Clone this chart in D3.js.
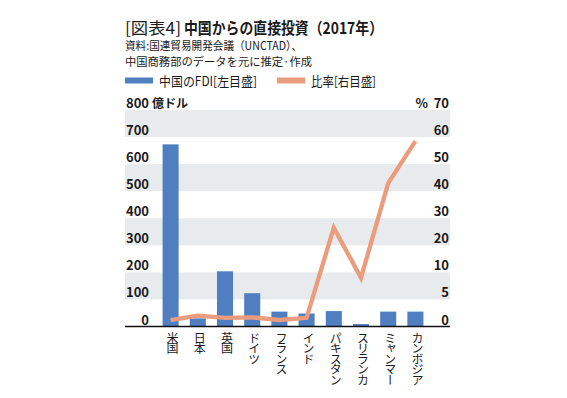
<!DOCTYPE html>
<html lang="ja">
<head>
	<meta charset="UTF-8">
	<title>中国からの直接投資</title>
	<script src="https://cdn.jsdelivr.net/npm/d3@7"></script>
	<style>
		body { margin: 0; background: #fff; }
		svg { display: block; font-family: "Noto Sans CJK JP", "Noto Sans", sans-serif; }
	</style>
</head>
<body>
	<div id="vis"></div>

	<script>
		// chart data
		var categories = ["米国", "日本", "英国", "ドイツ", "フランス", "インド", "パキスタン", "スリランカ", "ミャンマー", "カンボジア"];
		var fdi = [673, 30, 204, 123, 55, 48, 57, 9, 55, 55];           // 億ドル, left axis
		var ratio = [1.2, 2.0, 1.6, 1.7, 1.2, 1.6, 26.5, 9.0, 43, 58.5]; // %, right axis
		var leftTicks = [0, 100, 200, 300, 400, 500, 600, 700, 800];
		var rightTicks = [0, 5, 10, 20, 30, 40, 50, 60, 70];

		var width = 567;
		var height = 398;

		var svg = d3.select("#vis").append("svg")
				.attr("width", width)
				.attr("height", height);

		svg.append("rect")
			.attr("width", width)
			.attr("height", height)
			.attr("fill", "#fff");

		// plot area
		var plotLeft = 125, plotRight = 450;

		var x = d3.scaleBand()
				.domain(categories)
				.range([157, 429])
				.paddingInner(0.41)
				.paddingOuter(0.205);

		var y = d3.scaleLinear()
				.domain([0, 800])
				.range([326.5, 110]);

		// right axis is not linear: 0-10 takes two bands, then 10 per band
		var yR = d3.scaleLinear()
				.domain([0, 10, 70])
				.range([y(0), y(200), y(800)]);

		// alternating grey bands
		var bands = leftTicks.slice(0, -1).filter(function(d, i) { return i % 2 == 1; });
		svg.append("g").selectAll("rect")
			.data(bands)
			.join("rect")
				.attr("x", plotLeft)
				.attr("y", function(d) { return y(d + 100); })
				.attr("width", plotRight - plotLeft)
				.attr("height", function(d) { return y(d) - y(d + 100); })
				.attr("fill", "#e8ebee");

		// left axis labels
		var leftAxis = svg.append("g")
				.attr("transform", "translate(149,0)")
				.call(d3.axisLeft(y).tickValues(leftTicks).tickSize(0).tickPadding(0));
		leftAxis.select(".domain").remove();
		leftAxis.selectAll("text")
				.attr("dy", "-2.5")
				.attr("font-family", "'Noto Sans CJK JP', sans-serif")
				.attr("font-size", 13)
				.attr("font-weight", "bold")
				.attr("fill", "#1a1a1a");

		// right axis labels
		var rightAxis = svg.append("g")
				.attr("transform", "translate(449,0)")
				.call(d3.axisRight(yR).tickValues(rightTicks).tickSize(0).tickPadding(0));
		rightAxis.select(".domain").remove();
		rightAxis.selectAll("text")
				.attr("x", 0)
				.attr("dy", "-2.5")
				.attr("text-anchor", "end")
				.attr("font-family", "'Noto Sans CJK JP', sans-serif")
				.attr("font-size", 13)
				.attr("font-weight", "bold")
				.attr("fill", "#1a1a1a");

		// unit labels
		svg.append("text")
			.attr("x", 152)
			.attr("y", y(800) - 2.5)
			.attr("font-size", 12)
			.attr("font-weight", "bold")
			.attr("fill", "#1a1a1a")
			.text("億ドル");

		svg.append("text")
			.attr("x", 428)
			.attr("y", y(800) - 2.5)
			.attr("text-anchor", "end")
			.attr("font-size", 13)
			.attr("font-weight", "bold")
			.attr("fill", "#1a1a1a")
			.text("%");

		// bars
		svg.append("g").selectAll("rect")
			.data(fdi)
			.join("rect")
				.attr("x", function(d, i) { return x(categories[i]); })
				.attr("y", function(d) { return y(d); })
				.attr("width", x.bandwidth())
				.attr("height", function(d) { return y(0) - y(d); })
				.attr("fill", "#4f7fc1");

		// baseline
		svg.append("line")
			.attr("x1", plotLeft)
			.attr("x2", plotRight)
			.attr("y1", y(0))
			.attr("y2", y(0))
			.attr("stroke", "#111")
			.attr("stroke-width", 1.5);

		// ratio line
		var line = d3.line()
				.x(function(d, i) { return x(categories[i]) + x.bandwidth() / 2; })
				.y(function(d) { return yR(d); });

		svg.append("path")
			.datum(ratio)
			.attr("d", line)
			.attr("fill", "none")
			.attr("stroke", "#eb9c7c")
			.attr("stroke-width", 4.3)
			.attr("stroke-linejoin", "miter");

		// category labels, written vertically
		svg.append("g").selectAll("text")
			.data(categories)
			.join("text")
				.attr("x", function(d) { return x(d) + x.bandwidth() / 2 + 2; })
				.attr("y", 332)
				.attr("font-size", 12)
				.attr("letter-spacing", -1.5)
				.attr("fill", "#1a1a1a")
				.style("writing-mode", "vertical-rl")
				.text(function(d) { return d; });

		// title
		svg.append("text")
			.attr("x", 125)
			.attr("y", 33.5)
			.attr("font-size", 16)
			.attr("fill", "#1a1a1a")
			.attr("textLength", 56)
			.attr("lengthAdjust", "spacingAndGlyphs")
			.text("[図表4]");

		svg.append("text")
			.attr("x", 184)
			.attr("y", 33.5)
			.attr("font-size", 16)
			.attr("font-weight", "bold")
			.attr("fill", "#1a1a1a")
			.attr("textLength", 199)
			.attr("lengthAdjust", "spacingAndGlyphs")
			.text("中国からの直接投資（2017年）");

		// source note
		svg.append("text")
			.attr("x", 125)
			.attr("y", 50)
			.attr("font-size", 11.5)
			.attr("fill", "#1a1a1a")
			.attr("textLength", 177)
			.attr("lengthAdjust", "spacingAndGlyphs")
			.text("資料:国連貿易開発会議（UNCTAD）、");

		svg.append("text")
			.attr("x", 125)
			.attr("y", 65.5)
			.attr("font-size", 11.5)
			.attr("fill", "#1a1a1a")
			.attr("textLength", 187)
			.attr("lengthAdjust", "spacingAndGlyphs")
			.text("中国商務部のデータを元に推定·作成");

		// legend
		var legend = [
			{ label: "中国のFDI[左目盛]", color: "#4f7fc1", x: 125, w: 98 },
			{ label: "比率[右目盛]", color: "#eb9c7c", x: 277, w: 65 }
		];

		var lg = svg.append("g").selectAll("g")
			.data(legend)
			.join("g")
				.attr("transform", function(d) { return "translate(" + d.x + ",80.5)"; });

		lg.append("rect")
			.attr("x", 0)
			.attr("y", -3)
			.attr("width", 28)
			.attr("height", 6)
			.attr("fill", function(d) { return d.color; });

		lg.append("text")
			.attr("x", 34)
			.attr("y", 5)
			.attr("font-size", 13)
			.attr("fill", "#1a1a1a")
			.attr("textLength", function(d) { return d.w; })
			.attr("lengthAdjust", "spacingAndGlyphs")
			.text(function(d) { return d.label; });
	</script>
</body>
</html>
